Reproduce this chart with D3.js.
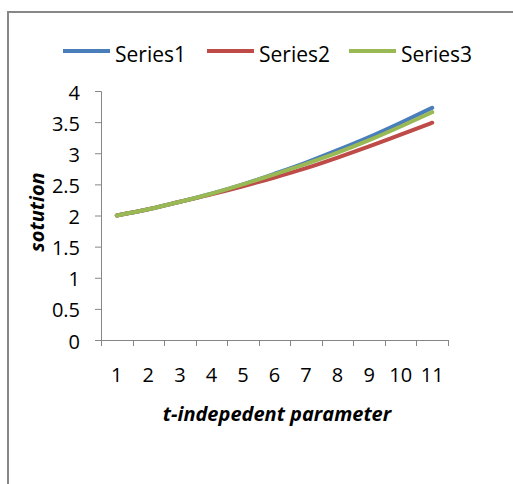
<!DOCTYPE html>
<html><head><meta charset="utf-8">
<script src="https://cdn.jsdelivr.net/npm/d3@7"></script>
<style>body{margin:0;background:#fff}svg{display:block}text{font-family:"Open Sans",sans-serif;fill:#000}</style>
</head><body><svg id="c" width="513" height="484"></svg>
<script>
const categories = ["1","2","3","4","5","6","7","8","9","10","11"];
const series1 = [2.00,2.10,2.22,2.35,2.50,2.67,2.85,3.05,3.26,3.49,3.73];
const series2 = [2.00,2.10,2.22,2.34,2.47,2.61,2.76,2.93,3.11,3.30,3.49];
const series3 = [2.00,2.10,2.22,2.35,2.50,2.66,2.83,3.01,3.21,3.43,3.66];
const seriesNames = ["Series1","Series2","Series3"];
const yTicks = [0,0.5,1,1.5,2,2.5,3,3.5,4];
const colors = ["#4a7ebb","#be4b48","#98b954"];

const svg = d3.select("#c");
// outer frame
svg.append("path").attr("d","M8,484V12H513").attr("fill","none").attr("stroke","#878787").attr("stroke-width",2);

const x = d3.scaleBand().domain(categories).range([101,448]).padding(0);
const y = d3.scaleLinear().domain([0,4]).range([340,91]);
const axisColor = "#868686";

// y axis
const ya = svg.append("g").attr("transform","translate(101,0)")
  .call(d3.axisLeft(y).tickValues(yTicks).tickSize(6).tickPadding(15).tickFormat(d3.format("")));
ya.select(".domain").attr("stroke",axisColor).attr("d","M-6,91.5H0.5V340.5");
ya.selectAll(".tick line").attr("stroke",axisColor);
ya.selectAll(".tick text").attr("font-size",20).attr("font-family","Open Sans").attr("dy","0.4em");

// x axis
const xa = svg.append("g").attr("transform","translate(0,340)")
  .call(d3.axisBottom(x).tickSize(0).tickPadding(28));
xa.select(".domain").attr("stroke",axisColor).attr("d","M101,0.5H448");
xa.selectAll(".tick text").attr("font-size",20).attr("font-family","Open Sans").attr("dy","0.71em");
const bounds = categories.map(c=>x(c)).concat([x.range()[1]]);
xa.selectAll("line.bt").data(bounds).join("line").attr("class","bt")
  .attr("x1",d=>Math.round(d)+0.5).attr("x2",d=>Math.round(d)+0.5).attr("y1",0).attr("y2",6)
  .attr("stroke",axisColor);

// lines
const data = [series1,series2,series3];
const line = d3.line().x((d,i)=>x(categories[i])+x.bandwidth()/2).y(d=>y(d)).curve(d3.curveMonotoneX);
svg.selectAll("path.s").data(data).join("path").attr("class","s")
  .attr("d",line).attr("fill","none").attr("stroke",(d,i)=>colors[i]).attr("stroke-width",4).attr("stroke-linecap","round");

// legend
const legX = [63,207,349];
const lg = svg.selectAll("g.lg").data(seriesNames).join("g").attr("class","lg")
  .attr("transform",(d,i)=>`translate(${legX[i]},51)`);
lg.append("line").attr("x1",0).attr("x2",47).attr("stroke",(d,i)=>colors[i]).attr("stroke-width",4);
lg.append("text").attr("x",52).attr("y",11).attr("font-size",21).text(d=>d);

// axis titles
svg.append("text").attr("x",277).attr("y",421).attr("text-anchor","middle")
  .attr("font-size",20).attr("font-weight","bold").attr("font-style","italic").text("t-indepedent parameter");
svg.append("text").attr("transform","translate(44,212) rotate(-90)").attr("text-anchor","middle")
  .attr("font-size",20).attr("font-weight","bold").attr("font-style","italic").text("sotution");
</script></body></html>
